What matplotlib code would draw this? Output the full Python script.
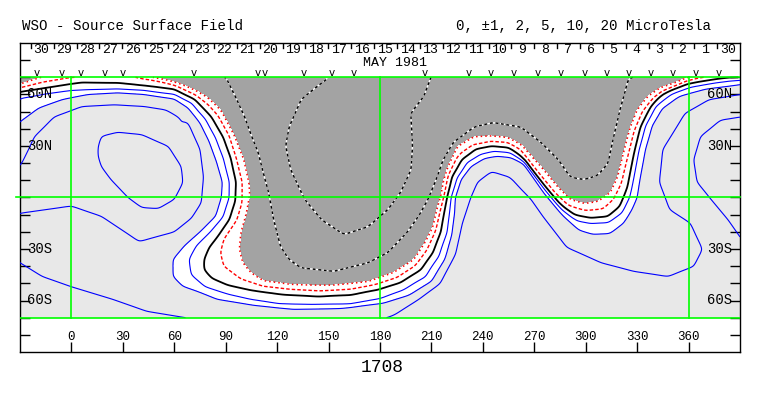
import numpy as np
import matplotlib
matplotlib.use("Agg")
import matplotlib.pyplot as plt

# ---------------- data ----------------
title_left = "WSO - Source Surface Field"
title_right = "0, \u00b11, 2, 5, 10, 20 MicroTesla"
rotation_label = "1708"
month_label = "MAY 1981"
day_labels = ["30", "29", "28", "27", "26", "25", "24", "23", "22", "21", "20", "19",
              "18", "17", "16", "15", "14", "13", "12", "11", "10", "9", "8", "7",
              "6", "5", "4", "3", "2", "1", "30"]
first_day_tick_lon = -23.7
deg_per_day = 13.35
obs_lons = [-20.4, -5.8, 5.2, 19.2, 29.7, 71.6, 108.5, 112.8, 135.7, 152, 164.8, 206.2,
            231.8, 244.6, 258, 272, 285.4, 299.4, 312.2, 325, 337.8, 350.6, 364, 377.4]
lon_ticks = [0, 30, 60, 90, 120, 150, 180, 210, 240, 270, 300, 330, 360]
lat_label_vals = [60, 30, -30, -60]
lat_label_text = ["60N", "30N", "30S", "60S"]

# field samples: traced points lying on each contour (lon, lat), in path order
b0_lon = [-30, -20, -10, 6, 27, 42, 60, 72, 81.5, 88.5, 93, 96, 95.5, 92, 86, 80.5, 77.5, 77.5,
          82, 91, 105, 124, 144, 163, 179, 192, 204, 211, 215.5, 217.5, 219.3, 222, 228, 236,
          245, 255, 262, 274, 284, 293, 303, 313, 320, 324.5, 328, 332, 338, 345, 359, 374, 384]
b0_lat = [61.5, 63, 64.5, 67, 66.5, 65, 63, 57, 47, 35, 23, 9, -2, -13, -22, -29, -36, -42,
          -47, -51, -54, -56.5, -57.5, -56.5, -53.5, -49.5, -42, -32, -20, -8.5, 1, 12, 22.5, 28.5,
          30, 29, 24, 9, -3, -10, -12, -11, -5, 6, 24, 41, 53, 61, 66, 68.5, 70]

bm1_lon = [-30, -16, -2, 15, 30, 45, 60, 72, 80, 86, 92, 96, 99.5, 99.5, 96.5, 89, 87, 89, 99,
           112, 128, 145, 163, 178, 190, 200, 207, 212, 215, 217.3, 220, 225, 234, 244.4, 254.3,
           262, 273, 282, 290, 300, 310, 316, 320.5, 324, 328, 333, 340, 350, 358, 366, 380]
bm1_lat = [64, 67.4, 69.8, 71, 71.5, 69.5, 65.5, 60, 54, 47, 36, 23, 9, -3, -13, -24, -32, -40,
           -47.5, -51.7, -53.5, -54.5, -53.5, -50.5, -46.5, -40, -31, -20, -8, 1, 13, 23, 30, 32.6,
           32, 28, 14, 3, -4.5, -7.5, -6.5, -1, 8, 22, 38, 50, 58.5, 64, 67.5, 70, 71.5]

bm2_lon = [-30, -24, -18, 0, 20, 35, 42, 55, 64, 72, 79, 87, 95, 100.6, 103.5, 104, 102, 99, 98,
           100, 105, 112, 128, 140, 153, 173, 188, 200, 207, 211, 213.5, 215.5, 217, 219.5, 225,
           234.5, 244.4, 254.3, 262, 274, 284, 291, 299, 307, 314.5, 318.6, 322, 326, 330, 336,
           343.6, 353.5, 359, 375, 390]
bm2_lat = [66, 68, 70, 72.5, 73, 72, 70.3, 68.5, 66, 62.5, 58.5, 51, 36, 22, 8.7, 2, -9, -20, -30,
           -38, -44, -48.5, -50.6, -51, -51, -49, -43.6, -36, -25, -17, -6, 1, 10, 18, 29.8,
           35.5, 36, 35, 31, 18, 6, -1, -3.5, -2.3, 3, 12, 26, 41, 51, 58.7,
           64, 67.4, 69.8, 72.5, 73]

bm5_lon = [90, 96, 101, 105, 109, 112, 115, 118, 122, 127, 134, 153, 173, 184.6, 196, 203, 208,
           213, 217, 223, 235, 246, 262, 274, 284, 291, 299, 307, 313, 316, 320, 325]
bm5_lat = [70, 58, 47, 36, 26, 14, 3, -13, -28.5, -36, -41, -43, -38, -32, -20, -10, -1,
           11, 22, 32, 41, 43.6, 41, 32, 22, 12, 10.5, 13, 20, 34, 51, 69]

bm10_lon = [150, 140, 134, 127, 125, 128, 136, 146, 159, 173, 184.6, 192, 198, 199, 198, 205.6, 209.7]
bm10_lat = [70, 62, 57, 41, 30, 16, -1, -13, -21.5, -17, -7, 3, 16, 30, 49, 59, 70]

bp1_lon = [-30, -15, 0, 27, 42, 60, 70, 78, 84, 88.5, 92, 92, 88.5, 81, 73, 68.7, 70, 78, 92,
           104, 120.7, 140, 163, 180, 193, 206, 214, 219, 220.5, 221.6, 225.3, 231, 238.8, 246.5,
           256.2, 264, 276, 286, 295, 303, 313, 321, 325.5, 328, 331, 335, 341, 350, 362, 376, 390]
bp1_lat = [57.5, 60.5, 62.5, 63.2, 62.5, 60, 55, 46, 35, 23, 9, 0, -11, -20, -28, -36, -45, -52,
           -56.5, -59.3, -62, -62.5, -62.2, -59, -54, -46, -34, -20, -9, 0, 11.6, 20.3, 25, 26.9,
           26, 21, 5, -7, -13.5, -15, -14.5, -9, 0, 12, 28, 42, 53, 60, 64.5, 67, 68.5]

bp2_lon = [-30, -19, -5, 10, 27, 42, 60, 68, 75, 80, 84.5, 88, 87.4, 84, 75, 66, 59.4, 59.4, 65,
           75.7, 85, 106.7, 129.4, 157.4, 182, 197, 210, 218, 222, 223.5, 224, 227.4, 233.2, 241,
           248.7, 256.6, 264.2, 276, 287, 296, 304, 314, 322, 327, 330, 332, 335, 339, 345, 355,
           370, 390]
bp2_lat = [44, 52, 57, 60, 61, 60, 57.3, 52, 43, 33, 21, 9, 0, -11, -20, -28, -36, -46, -51.7,
           -55.5, -59.3, -62.8, -65.1, -64.5, -61.5, -57, -49, -36, -22, -10, 0, 10.5, 18, 22.7,
           24, 23, 19.2, 2, -11, -19, -21.5, -21, -15, -7, 0, 12, 28, 42, 52, 59,
           63, 65.5]

bp5a_lon = [-30, -17, 0, 24, 44, 66.5]
bp5a_lat = [-38, -46, -52, -59.3, -66.3, -70]
bp5b_lon = [-29, 0, 17.5, 39.6, 60, 70, 75.7, 77, 75, 68, 55, 42.5, 25, 6, -10, -21.5, -29]
bp5b_lat = [-9, -5, -11, -25.6, -20, -12, -3, 12, 28, 43.6, 51, 53, 54, 53, 47, 35.5, 20]
bp5c_lon = [189, 203, 215, 224, 228, 233, 237, 245, 255, 262, 268, 275, 289, 309, 328, 348, 363,
            368, 361, 349, 343, 345, 358, 372, 390]
bp5c_lat = [-68, -59, -50, -33, -15, 0, 9, 15, 12, 5, -1, -11, -29, -38, -43, -46, -40,
            -30, -15, -7, 9, 28, 49, 57, 60]

bp10a_lon = [15.7, 17.5, 27, 41, 56.5, 64, 65, 60, 50.7, 41, 33, 23, 17.5, 15.7]
bp10a_lat = [29.7, 35.5, 38, 36.6, 29.7, 18, 8.7, -1, -6.4, -5.8, 0, 10.5, 18, 23.8]
bp10b_lon = [391, 378.6, 367, 363, 365, 373, 383, 391]
bp10b_lat = [47, 45, 35.5, 22, 9, -1, -13, -24.4]

# interior field values (lon, lat, microtesla)
ext_lon = [40, 395, 385, 380, 162, 170, 110, 240, 290, 260, 0, 300, 250, 390, 150, 0, -30, -30,
           330, 250, 230, 270, 0, -10, 5, 65, -5, -30, -20, 218, 212, 388, 388]
ext_lat = [16, 12, 10, 28, 25, 75, 60, 60, 55, 68, -68, -62, -40, -50, -75, 30, 30, 5,
           -30, -10, -68, -68, 10, 25, 42, 45, -25, 38, 25, 50, 32, 36, -12]
ext_val = [12.5, 12, 11.5, 11, -12.5, -12, -7.5, -7.5, -7, -7, 6.5, 7, 6.5, 8, 3.5, 6.5, 3.5, 6,
           3.5, 6, 6.2, 6.8, 6.8, 6.2, 6.5, 4, 3.8, 2.8, 5.8, -7.5, -7, 10.8, 10.8]

contour_traces = [
    (b0_lon, b0_lat, 0), (bm1_lon, bm1_lat, -1), (bm2_lon, bm2_lat, -2),
    (bm5_lon, bm5_lat, -5), (bm10_lon, bm10_lat, -10),
    (bp1_lon, bp1_lat, 1), (bp2_lon, bp2_lat, 2),
    (bp5a_lon, bp5a_lat, 5), (bp5b_lon, bp5b_lat, 5), (bp5c_lon, bp5c_lat, 5),
    (bp10a_lon, bp10a_lat, 10), (bp10b_lon, bp10b_lat, 10),
]


# ---------------- build field: smoothing thin-plate spline through the traces ----------
def along(lo, la, step=2.5):
    lo = np.asarray(lo, float)
    la = np.asarray(la, float)
    xs, ys = [lo[0]], [la[0]]
    for i in range(1, len(lo)):
        seg = np.hypot(lo[i] - lo[i - 1], la[i] - la[i - 1])
        k = max(1, int(np.ceil(seg / step)))
        t = np.arange(1, k + 1) / k
        xs += list(lo[i - 1] + t * (lo[i] - lo[i - 1]))
        ys += list(la[i - 1] + t * (la[i] - la[i - 1]))
    return xs, ys


def collect():
    xs, ys, vs = [], [], []
    for lo, la, v in contour_traces:
        a_, b_ = along(lo, la)
        xs += a_; ys += b_; vs += [v] * len(a_)
    xs += ext_lon; ys += ext_lat; vs += ext_val
    return np.array(xs) / 100.0, np.array(ys) / 100.0, np.array(vs, float)


def tps_kernel(d2):
    out = np.zeros_like(d2)
    m = d2 > 0
    out[m] = 0.5 * d2[m] * np.log(d2[m])
    return out


px, py, pv = collect()
n = len(px)
d2 = (px[:, None] - px[None, :]) ** 2 + (py[:, None] - py[None, :]) ** 2
A = np.zeros((n + 3, n + 3))
A[:n, :n] = tps_kernel(d2) + 8e-4 * np.eye(n)
P = np.column_stack([np.ones(n), px, py])
A[:n, n:] = P
A[n:, :n] = P.T
sol = np.linalg.solve(A, np.concatenate([pv, np.zeros(3)]))
w, a = sol[:n], sol[n:]

glon = np.linspace(-30, 390, 561)
glat = np.linspace(-70, 70, 188)
field = np.empty((len(glat), len(glon)))
gxs = glon / 100.0
for i, la in enumerate(glat / 100.0):
    k = tps_kernel((gxs[:, None] - px[None, :]) ** 2 + (la - py[None, :]) ** 2)
    field[i] = k @ w + a[0] + a[1] * gxs + a[2] * la

# ---------------- draw ----------------
mono = "Liberation Mono"
fig = plt.figure(figsize=(7.63, 3.96), dpi=100)
ax = fig.add_axes([20 / 763, 1 - 352 / 396, 720 / 763, 309 / 396])
ax.set_xlim(-30, 390)
ax.set_ylim(-90, 90)

ax.contourf(glon, glat, field, levels=[-1e3, -2, 2, 1e3],
            colors=["#a3a3a3", "#ffffff", "#e8e8e8"], zorder=1)

ax.contour(glon, glat, field, levels=[1, 2, 5, 10, 20], colors="#0000ff",
           linewidths=0.8, zorder=3)
ax.contour(glon, glat, field, levels=[0], colors="black", linewidths=1.3, zorder=4)
ax.contour(glon, glat, field, levels=[-1], colors="#ff0000", linewidths=1.0,
           linestyles=[(0, (2.5, 1.5))], zorder=4)
ax.contour(glon, glat, field, levels=[-2], colors="#ff0000", linewidths=1.1,
           linestyles=[(0, (1, 2))], zorder=4)
ax.contour(glon, glat, field, levels=[-20, -10, -5], colors="white", linewidths=1.0, zorder=3)
ax.contour(glon, glat, field, levels=[-20, -10, -5], colors="black", linewidths=1.0,
           linestyles=[(0, (2, 2))], zorder=4)

green = "#00ff00"
for lo in [0, 180, 360]:
    ax.plot([lo, lo], [-70, 70], color=green, lw=1.2, zorder=5)
for la in [-70, 70]:
    ax.plot([-30, 390], [la, la], color=green, lw=1.2, zorder=5)
ax.plot([-32.5, 390], [0, 0], color=green, lw=1.2, zorder=5, clip_on=False)

# axes frame / ticks
for s in ax.spines.values():
    s.set_color("black")
    s.set_linewidth(1.0)
ax.set_xticks(lon_ticks)
ax.set_xticklabels([])
ax.set_yticks(np.arange(-80, 81, 10))
ax.set_yticklabels([])
ax.tick_params(axis="x", direction="in", length=7, width=1, colors="black", top=False)
ax.tick_params(axis="y", direction="in", length=7, width=1, colors="black", right=True)

for lo in lon_ticks:
    ax.text(lo, -81.5, str(lo), ha="center", va="center", fontsize=9, family=mono, zorder=6)
for la, t in zip(lat_label_vals, lat_label_text):
    ax.text(-25.8, la, t, ha="left", va="center", fontsize=10, family=mono, zorder=6)
    ax.text(385.5, la, t, ha="right", va="center", fontsize=10, family=mono, zorder=6)

# day strip
for i, lab in enumerate(day_labels):
    tl = first_day_tick_lon + i * deg_per_day
    ax.plot([tl, tl], [89.5, 86.8], color="black", lw=1.0, zorder=6)
    ax.text(tl + 6.2, 86.2, lab, ha="center", va="center", fontsize=9.5, family=mono, zorder=6)
ax.text(188.5, 78.6, month_label, ha="center", va="center", fontsize=9.5, family=mono, zorder=6)
for lo in obs_lons:
    ax.text(lo, 72.3, "v", ha="center", va="center", fontsize=7.5, family="DejaVu Sans",
            zorder=6)

fig.text(22 / 763, 1 - 26 / 396, title_left, ha="left", va="center", fontsize=10.2, family=mono)
fig.text(711 / 763, 1 - 26 / 396, title_right, ha="right", va="center", fontsize=10.2,
         family=mono)
fig.text(382 / 763, 1 - 367 / 396, rotation_label, ha="center", va="center", fontsize=13,
         family=mono)

fig.savefig("out.png", dpi=100)
